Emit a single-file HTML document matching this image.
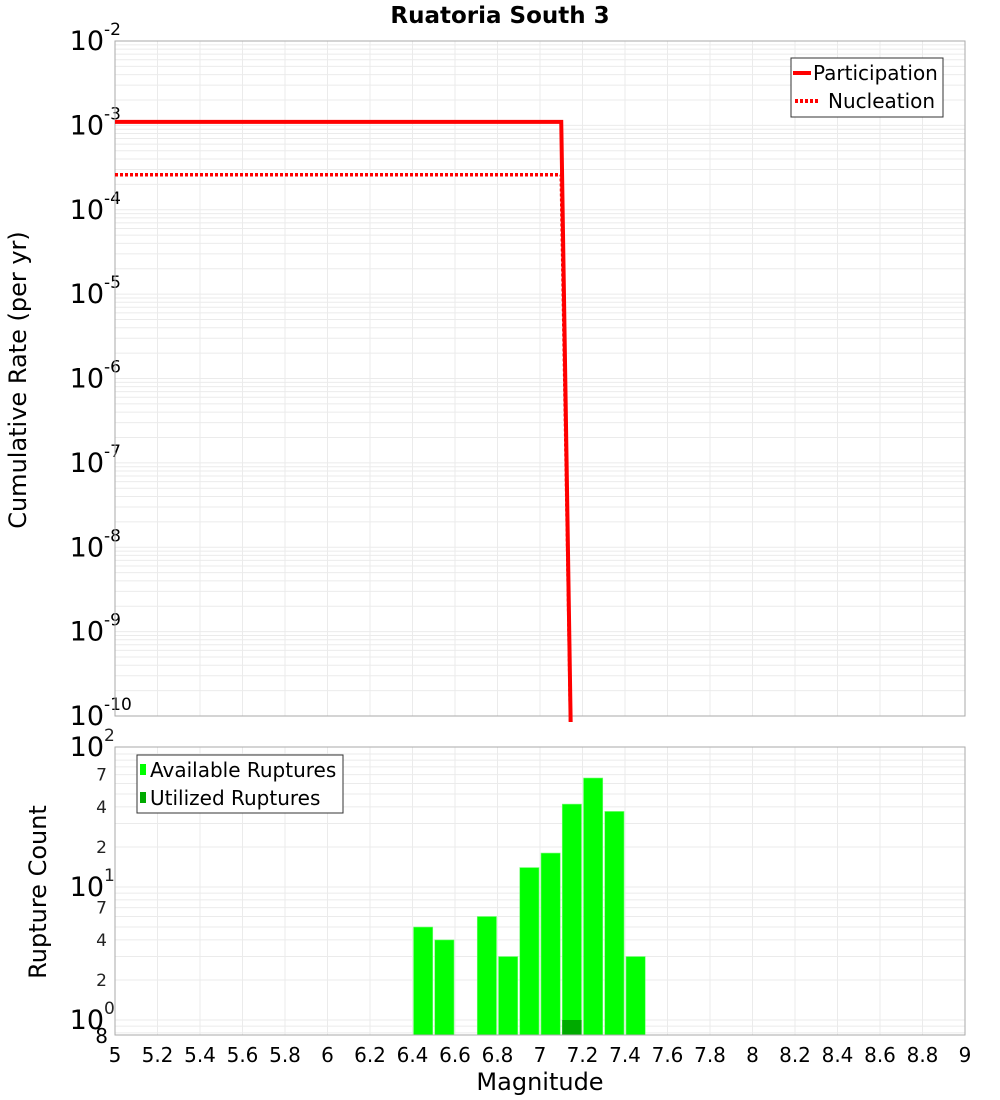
<!DOCTYPE html>
<html><head><meta charset="utf-8"><style>
body{margin:0;background:#fff;}
svg{display:block;font-family:"DejaVu Sans","Liberation Sans",sans-serif;}
</style></head><body>
<svg id="chart" width="1000" height="1100" viewBox="0 0 1000 1100" xmlns="http://www.w3.org/2000/svg">
<text x="500" y="23" text-anchor="middle" font-size="23" font-weight="bold">Ruatoria South 3</text>
<text transform="translate(26,380) rotate(-90)" text-anchor="middle" font-size="24">Cumulative Rate (per yr)</text>
<text transform="translate(46,892) rotate(-90)" text-anchor="middle" font-size="24">Rupture Count</text>
<text x="540" y="1090" text-anchor="middle" font-size="24">Magnitude</text>
<g id="gtop"></g><g id="gbot"></g><g id="xt"></g>
<g>
<rect x="791" y="58" width="152" height="59" fill="#fff" stroke="#333" stroke-width="1"/>
<line x1="793" y1="73" x2="811" y2="73" stroke="#f00" stroke-width="4"/>
<text x="813" y="80" font-size="20">Participation</text>
<line x1="795" y1="101" x2="820" y2="101" stroke="#f00" stroke-width="4" stroke-dasharray="3,2"/>
<text x="828" y="108" font-size="20">Nucleation</text>
</g>
<g id="gleg2">
<rect x="137" y="755" width="206" height="58" fill="#fff" stroke="#333" stroke-width="1"/>
<rect x="140" y="764" width="6" height="11" fill="#0f0"/>
<text x="150" y="777" font-size="20">Available Ruptures</text>
<rect x="140" y="792" width="6" height="11" fill="#0a0"/>
<text x="150" y="805" font-size="20">Utilized Ruptures</text>
</g>
</svg>
<script>
const xTicks=[5,5.2,5.4,5.6,5.8,6,6.2,6.4,6.6,6.8,7,7.2,7.4,7.6,7.8,8,8.2,8.4,8.6,8.8,9];
const partMags=[5,7.1,7.15];
const partRates=[1.1e-3,1.1e-3,1e-11];
const nuclMags=[5,7.1,7.15];
const nuclRates=[2.6e-4,2.6e-4,1e-11];
const binMags=[6.45,6.55,6.75,6.85,6.95,7.05,7.15,7.25,7.35,7.45];
const availCounts=[5,4,6,3,14,18,42,66,37,3];
const utilMags=[7.15];
const utilCounts=[1];
const topExps=[-10,-9,-8,-7,-6,-5,-4,-3,-2];
const NS="http://www.w3.org/2000/svg";
const L=115,R=965,TT=41,TB=716,BT=747,BB=1035;
const xs=m=>L+(m-5)/(9-5)*(R-L);
const yT=v=>TB-(Math.log10(v)+10)/8*(TB-TT);
const yB=v=>1020-Math.log10(v)*133;
function mk(p,tag,at){const e=document.createElementNS(NS,tag);for(const k in at)e.setAttribute(k,at[k]);p.appendChild(e);return e;}
const gTop=document.getElementById('gtop'),gBot=document.getElementById('gbot'),gXt=document.getElementById('xt');
for(const t of xTicks){const xx=xs(t);
 mk(gTop,'line',{x1:xx,x2:xx,y1:TT,y2:TB,stroke:'#ebebeb'});
 mk(gBot,'line',{x1:xx,x2:xx,y1:BT,y2:BB,stroke:'#ebebeb'});
 const tx=mk(gXt,'text',{x:xx,y:1062,'text-anchor':'middle','font-size':20});tx.textContent=String(t);
 
 }
for(const e of topExps){for(let k=1;k<10;k++){if(e==-2&&k>1)break;const yy=yT(k*Math.pow(10,e));
 mk(gTop,'line',{x1:L,x2:R,y1:yy,y2:yy,stroke:'#ebebeb'});}
 const yy=yT(Math.pow(10,e));
 const t=mk(gTop,'text',{x:104,y:yy+9,'text-anchor':'end','font-size':27});t.textContent='10';
 
 
 const s=mk(gTop,'text',{x:104,y:yy-6,'font-size':17});s.textContent=String(e);}
mk(gTop,'rect',{x:L,y:TT,width:R-L,height:TB-TT,fill:'none',stroke:'#aaa'});
const cp=mk(gTop,'clipPath',{id:'cpt'});mk(cp,'rect',{x:L,y:TT,width:R-L,height:TB-TT+6});
function path(ms,vs){return ms.map((m,i)=>(i?'L':'M')+xs(m)+','+yT(vs[i])).join('');}
const pn=mk(gTop,'path',{d:path(nuclMags,nuclRates),fill:'none',stroke:'#f00','stroke-width':3.5,'stroke-dasharray':'3,2','clip-path':'url(#cpt)'});


const pp=mk(gTop,'path',{d:path(partMags,partRates),fill:'none',stroke:'#f00','stroke-width':4,'clip-path':'url(#cpt)'});


const bl=[[100,'2',true],[70,'7'],[40,'4'],[20,'2'],[10,'1',true],[7,'7'],[4,'4'],[2,'2'],[1,'0',true]];
for(let d=0;d<3;d++)for(let k=1;k<10;k++){const v=k*Math.pow(10,d);if(v>110)continue;const yy=yB(v);
 mk(gBot,'line',{x1:L,x2:R,y1:yy,y2:yy,stroke:'#ebebeb'});}
mk(gBot,'line',{x1:L,x2:R,y1:yB(0.8),y2:yB(0.8),stroke:'#ebebeb'});mk(gBot,'line',{x1:L,x2:R,y1:yB(0.9),y2:yB(0.9),stroke:'#ebebeb'});
for(const [v,lab,big] of bl){const yy=v==100?BT:yB(v);
 if(big){const t=mk(gBot,'text',{x:104,y:yy+9,'text-anchor':'end','font-size':27});t.textContent='10';
 const s=mk(gBot,'text',{x:104,y:yy-6,'font-size':17,fill:'#222'});s.textContent=lab;}
 else{const s=mk(gBot,'text',{x:107,y:yy+6,'text-anchor':'end','font-size':17,fill:'#222'});s.textContent=lab;}}
const e8=mk(gBot,'text',{x:108,y:1043,'text-anchor':'end','font-size':20});e8.textContent='8';
availCounts.forEach((c,i)=>{const x0=xs(binMags[i]-0.05)+1,x1=xs(binMags[i]+0.05)-1;
 const r=mk(gBot,'rect',{x:x0,y:yB(c),width:x1-x0,height:BB-yB(c),fill:'#00ff00',stroke:'#7f7','stroke-width':0.6});
 
 });
utilCounts.forEach((c,i)=>{const x0=xs(utilMags[i]-0.05)+1,x1=xs(utilMags[i]+0.05)-1;
 const r=mk(gBot,'rect',{x:x0,y:yB(c),width:x1-x0,height:BB-yB(c),fill:'#00aa00'});
 
 });
mk(gBot,'rect',{x:L,y:BT,width:R-L,height:BB-BT,fill:'none',stroke:'#aaa'});
const svg=document.getElementById('chart');svg.appendChild(document.getElementById('gleg2'));
</script>
</body></html>
